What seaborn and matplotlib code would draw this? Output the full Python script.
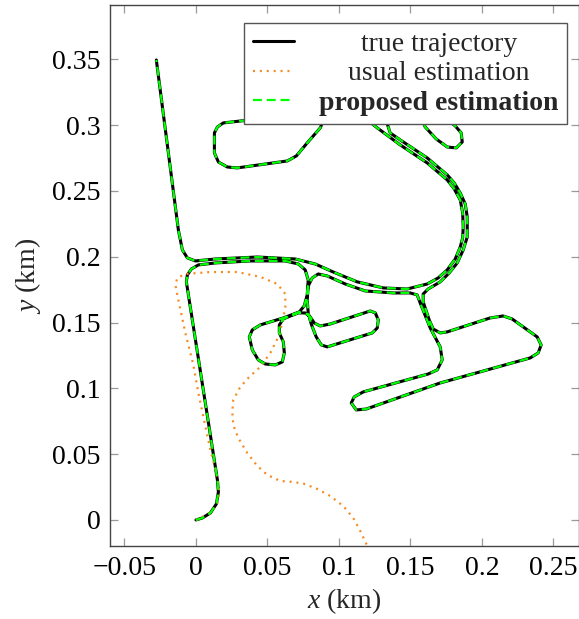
import matplotlib
matplotlib.use("Agg")
import matplotlib.pyplot as plt
import seaborn as sns

# ---------------- data (km) ----------------
true_x = [0.000, 0.0045, 0.0101, 0.0143, 0.0157, 0.0150, -0.0067, -0.0060, -0.0032, 0.0017,
          0.0136, 0.0380, 0.0625, 0.0716, 0.0764, 0.0785, 0.0778, 0.0757, 0.0723,
          0.0611, 0.0450, 0.0394, 0.0373, 0.0394, 0.0436, 0.0485, 0.0555, 0.0604, 0.0618,
          0.0611, 0.0583, 0.0583, 0.0611, 0.0660, 0.0716, 0.0764, 0.0799, 0.0827,
          0.0869, 0.0939, 0.1219, 0.1254, 0.1275, 0.1268, 0.1233, 0.0918, 0.0876, 0.0841,
          0.0806, 0.0785, 0.0778, 0.0785, 0.0813, 0.0855, 0.0918, 0.1044, 0.1184, 0.1379,
          0.1498, 0.1547,
          0.1568, 0.1638, 0.1708, 0.1722, 0.1687, 0.1624, 0.1170, 0.1107, 0.1086, 0.1121,
          0.1191, 0.1708, 0.2337, 0.2393, 0.2414, 0.2386, 0.2211, 0.2148, 0.2057, 0.1757,
          0.1708, 0.1659, 0.1631, 0.1589, 0.1589, 0.1624,
          0.1708, 0.1771, 0.1827, 0.1869, 0.1897, 0.1897, 0.1883, 0.1848, 0.1806, 0.1757,
          0.1617, 0.1428, 0.1358, 0.1338,
          0.1372, 0.1463, 0.1554, 0.1603, 0.1680, 0.1757, 0.1820, 0.1862, 0.1855, 0.1813,
          0.1708, 0.1533, 0.1289, 0.1044, 0.0925, 0.0869,
          0.0778, 0.0702, 0.0639, 0.0289, 0.0219, 0.0157, 0.0129, 0.0129, 0.0150, 0.0191,
          0.0380, 0.0730, 0.1009, 0.1163, 0.1268,
          0.1428, 0.1617, 0.1757, 0.1806, 0.1848, 0.1865, 0.1869, 0.1865, 0.1848, 0.1813,
          0.1757, 0.1694, 0.1617, 0.1477, 0.1310,
          0.1128, 0.0960, 0.0834, 0.0695, 0.0429, 0.0136, -0.0004, -0.0060, -0.0095,
          -0.0123, -0.0277]
true_y = [0.000, 0.0015, 0.0053, 0.0122, 0.0213, 0.0304, 0.1809, 0.1862, 0.1907, 0.1938,
          0.1953, 0.1968, 0.1968, 0.1945, 0.1900, 0.1824, 0.1710, 0.1626, 0.1581,
          0.1535, 0.1482, 0.1444, 0.1391, 0.1292, 0.1216, 0.1185, 0.1178, 0.1201, 0.1269,
          0.1353, 0.1421, 0.1482, 0.1527, 0.1550, 0.1573, 0.1573, 0.1543, 0.1497,
          0.1474, 0.1489, 0.1588, 0.1573, 0.1520, 0.1459, 0.1421, 0.1315, 0.1330, 0.1391,
          0.1489, 0.1573, 0.1672, 0.1778, 0.1839, 0.1869, 0.1854, 0.1793, 0.1740, 0.1725,
          0.1725, 0.1710,
          0.1649, 0.1459, 0.1315, 0.1216, 0.1140, 0.1109, 0.0973, 0.0935, 0.0889, 0.0836,
          0.0843, 0.1041, 0.1231, 0.1269, 0.1330, 0.1391, 0.1527, 0.1550, 0.1535, 0.1429,
          0.1421, 0.1451, 0.1520, 0.1657, 0.1717, 0.1755,
          0.1809, 0.1877, 0.1953, 0.2052, 0.2150, 0.2302, 0.2401, 0.2485, 0.2561, 0.2622,
          0.2751, 0.2888, 0.2941, 0.3009,
          0.3131, 0.3161, 0.3100, 0.2986, 0.2895, 0.2834, 0.2827, 0.2872, 0.2941, 0.2994,
          0.3085, 0.3207, 0.3283, 0.3252, 0.3131, 0.2979,
          0.2865, 0.2766, 0.2728, 0.2675, 0.2682, 0.2720, 0.2789, 0.2941, 0.2986, 0.3017,
          0.3040, 0.3093, 0.3116, 0.3070, 0.2979,
          0.2850, 0.2713, 0.2584, 0.2515, 0.2432, 0.2333, 0.2226, 0.2143, 0.2074, 0.1983,
          0.1900, 0.1839, 0.1793, 0.1755, 0.1763,
          0.1809, 0.1884, 0.1945, 0.1983, 0.1998, 0.1983, 0.1968, 0.1991, 0.2052,
          0.2204, 0.3495]

usual_x = [0.000, 0.0101, 0.0150, 0.0164, 0.0150, 0.0101, 0.0052, 0.0017, -0.0018, -0.0074,
           -0.0123, -0.0144, -0.0130, -0.0074, 0.0101, 0.0289, 0.0450, 0.0569, 0.0625, 0.0625,
           0.0604, 0.0576, 0.0520, 0.0450, 0.0373, 0.0310, 0.0261, 0.0254, 0.0261, 0.0296,
           0.0359, 0.0429, 0.0499, 0.0590, 0.0681, 0.0757, 0.0848, 0.0939, 0.1030, 0.1100,
           0.1149, 0.1198, 0.1254]
usual_y = [0.000, 0.0053, 0.0129, 0.0205, 0.0327, 0.0532, 0.0783, 0.0965, 0.1178, 0.1421,
           0.1672, 0.1786, 0.1839, 0.1869, 0.1884, 0.1884, 0.1847, 0.1793, 0.1717, 0.1619,
           0.1497, 0.1391, 0.1269, 0.1163, 0.1087, 0.1011, 0.0912, 0.0821, 0.0722, 0.0623,
           0.0509, 0.0410, 0.0342, 0.0296, 0.0289, 0.0274, 0.0236, 0.0182, 0.0106, 0.0015,
           -0.0084, -0.0198, -0.0342]

proposed_x = list(true_x)
proposed_y = list(true_y)

x_ticks = [-0.05, 0, 0.05, 0.1, 0.15, 0.2, 0.25]
x_tick_labels = ["\u22120.05", "0", "0.05", "0.1", "0.15", "0.2", "0.25"]
y_ticks = [0, 0.05, 0.1, 0.15, 0.2, 0.25, 0.3, 0.35]
y_tick_labels = ["0", "0.05", "0.1", "0.15", "0.2", "0.25", "0.3", "0.35"]
series_labels = ["true trajectory", "usual estimation", "proposed estimation"]

# ---------------- style ----------------
sns.set_theme(style="ticks")
plt.rcParams["font.family"] = ["Liberation Serif", "DejaVu Serif"]
plt.rcParams["mathtext.fontset"] = "custom"
plt.rcParams["mathtext.it"] = "Liberation Serif:italic"
plt.rcParams["mathtext.rm"] = "Liberation Serif"
FS = 20

fig = plt.figure(figsize=(5.79, 6.19), dpi=100)
ax = fig.add_axes([110 / 579, 1 - 546 / 619, (578.5 - 110) / 579, (546 - 5) / 619])

sns.lineplot(x=true_x, y=true_y, sort=False, estimator=None, color="black",
             lw=2.2, solid_joinstyle="round", solid_capstyle="round",
             ax=ax, label=series_labels[0])
sns.lineplot(x=usual_x, y=usual_y, sort=False, estimator=None, color="#f58a1f",
             lw=1.6, linestyle=(0, (0.9, 2.2)), ax=ax, label=series_labels[1])
sns.lineplot(x=proposed_x, y=proposed_y, sort=False, estimator=None, color="#00ff00",
             lw=1.6, linestyle=(0, (4, 2.2)), dash_joinstyle="round",
             ax=ax, label=series_labels[2])

ax.set_xlim(-0.0601, 0.2675)
ax.set_ylim(-0.0198, 0.3913)
ax.set_xticks(x_ticks)
ax.set_xticklabels(x_tick_labels)
ax.set_yticks(y_ticks)
ax.set_yticklabels(y_tick_labels)
ax.tick_params(direction="in", length=6, width=0.9, color="#9a9a9a",
               top=True, right=True, labelsize=FS, pad=7, labelcolor="black")
for s in ax.spines.values():
    s.set_visible(True)
    s.set_color("#444444")
    s.set_linewidth(1.0)

ax.set_xlabel("$x$ (km)", fontsize=FS, labelpad=4)
ax.set_ylabel("$y$ (km)", fontsize=FS, labelpad=6)

leg = ax.legend(loc="upper right",
                bbox_to_anchor=((567 - 110) / 468.5, 1 - (23 - 5) / 541),
                borderaxespad=0, fontsize=FS, frameon=True, fancybox=False,
                framealpha=1, edgecolor="#555555", handlelength=1.5,
                labelspacing=0.15, borderpad=0.3, handletextpad=0.9)
leg.get_frame().set_linewidth(1.0)
leg.get_texts()[2].set_fontweight("bold")

# centre legend labels in their column
fig.canvas.draw()
r = fig.canvas.get_renderer()
ws = [t.get_window_extent(r).width for t in leg.get_texts()]
mw = max(ws)
for t, w in zip(leg.get_texts(), ws):
    t.set_x((mw - w) / 2)

fig.savefig("out.png", dpi=100)
